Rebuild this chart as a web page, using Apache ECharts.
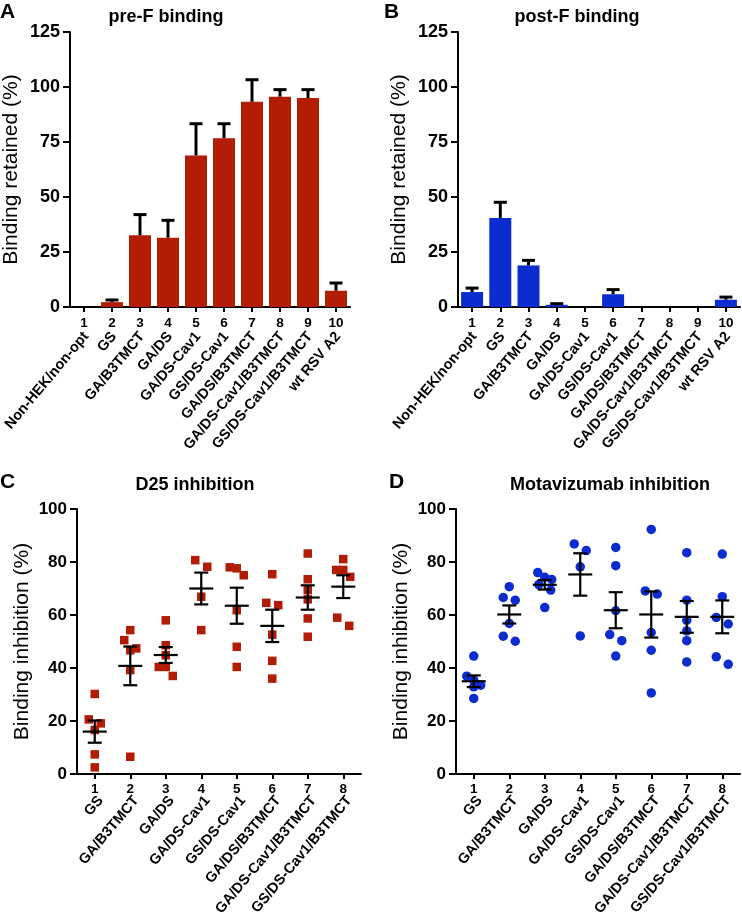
<!DOCTYPE html>
<html><head><meta charset="utf-8">
<script src="https://cdn.jsdelivr.net/npm/echarts@6/dist/echarts.min.js"></script>
<style>html,body{margin:0;padding:0;background:#fff}#c{width:742px;height:914px}</style>
</head><body><div id="c"></div>
<script>
// ---------- DATA ----------
const constructsAB = ['Non-HEK/non-opt','GS','GA/B3TMCT','GA/DS','GA/DS-Cav1','GS/DS-Cav1','GA/DS/B3TMCT','GA/DS-Cav1/B3TMCT','GS/DS-Cav1/B3TMCT','wt RSV A2'];
const numbersAB = ['1','2','3','4','5','6','7','8','9','10'];
const preFMean = [0, 2.2, 32.6, 31.5, 68.9, 76.7, 93.3, 95.6, 95.0, 7.4];
const preFErr  = [0, 1.0, 9.4, 7.9, 14.4, 6.6, 10.0, 3.2, 3.8, 3.5];
const postFMean = [6.8, 40.5, 18.9, 1.0, 0, 5.8, 0, 0, 0, 3.3];
const postFErr  = [1.8, 7.1, 2.3, 0.5, 0, 2.1, 0, 0, 0, 1.2];
const yTicksAB = [0, 25, 50, 75, 100, 125];

const constructsCD = ['GS','GA/B3TMCT','GA/DS','GA/DS-Cav1','GS/DS-Cav1','GA/DS/B3TMCT','GA/DS-Cav1/B3TMCT','GS/DS-Cav1/B3TMCT'];
const numbersCD = ['1','2','3','4','5','6','7','8'];
const d25Points = [
  [30.2, 20.6, 19.1, 16.6, 7.4, 2.5],
  [54.3, 50.5, 47.4, 46.7, 39.2, 6.5],
  [58.0, 48.6, 44.8, 40.4, 40.4, 37.0],
  [80.7, 78.2, 66.9, 54.3],
  [78.0, 77.6, 75.0, 61.8, 48.0, 40.4],
  [75.4, 64.6, 63.7, 52.6, 42.7, 36.0],
  [83.2, 73.5, 69.4, 65.9, 58.7, 51.8],
  [81.1, 77.0, 77.0, 74.4, 59.0, 55.9]
];
const d25Mean = [16.0, 40.8, 44.9, 70.0, 63.5, 55.9, 66.6, 70.7];
const d25Sem  = [4.2, 7.3, 3.0, 6.0, 6.8, 6.1, 4.6, 4.3];
const motaPoints = [
  [44.5, 36.9, 35.4, 33.5, 32.9, 28.5],
  [70.7, 66.6, 65.6, 56.8, 52.0, 50.1],
  [76.0, 74.2, 73.4, 71.5, 69.4, 62.8],
  [86.8, 84.3, 78.2, 52.1],
  [85.5, 78.6, 61.6, 52.6, 50.3, 44.5],
  [92.3, 69.1, 67.9, 53.4, 46.7, 30.6],
  [83.5, 65.6, 58.0, 54.0, 50.3, 42.3],
  [83.0, 66.9, 59.1, 56.6, 44.2, 41.4]
];
const motaMean = [35.0, 60.2, 71.4, 75.3, 61.8, 60.2, 59.3, 59.3];
const motaSem  = [2.2, 3.4, 1.8, 8.0, 6.8, 8.7, 6.0, 6.2];
const yTicksCD = [0, 20, 40, 60, 80, 100];

// ---------- STYLE ----------
const FONT = "'Liberation Sans', Arial, Helvetica, sans-serif";
const RED = '#B11C03';
const BLUE = '#0B2DCF';

// beeswarm-like layout: points whose values are close share a row and are spread sideways
function swarm(vals, tol) {
  const idx = vals.map((v, i) => i).sort((a, b) => vals[b] - vals[a]);
  const out = new Array(vals.length).fill(0);
  let row = [];
  const flush = () => {
    const n = row.length, step = n > 2 ? 7 : 12;
    row.forEach((k, j) => { out[k] = (j - (n - 1) / 2) * step; });
    row = [];
  };
  idx.forEach(k => {
    if (row.length && vals[row[0]] - vals[k] >= tol) flush();
    row.push(k);
  });
  flush();
  return out;
}
function scatterData(groups) {
  const res = [];
  groups.forEach((g, i) => {
    const off = swarm(g, 3.5);
    g.forEach((v, j) => res.push({ value: [i, v], symbolOffset: [off[j], 0] }));
  });
  return res;
}

function numAxis(gi, data, margin) {
  return {
    type: 'category', gridIndex: gi, data: data, position: 'bottom', boundaryGap: true,
    axisLine: { show: true, lineStyle: { color: '#000', width: 2 } },
    axisTick: { show: true, alignWithLabel: true, length: 5, lineStyle: { color: '#000', width: 2 } },
    axisLabel: { color: '#000', fontFamily: FONT, fontWeight: 'bold', fontSize: 13.5, margin: margin, interval: 0 },
    splitLine: { show: false }
  };
}
function nameAxis(gi, data, margin) {
  return {
    type: 'category', gridIndex: gi, data: data, position: 'bottom', offset: 0, boundaryGap: true,
    axisLine: { show: false }, axisTick: { show: false },
    axisLabel: { color: '#000', fontFamily: FONT, fontWeight: 'bold', fontSize: 14.5, margin: margin, rotate: 50, interval: 0 },
    splitLine: { show: false }
  };
}
function valAxis(gi, ticks, name, fs, gap) {
  return {
    type: 'value', gridIndex: gi, min: ticks[0], max: ticks[ticks.length - 1], interval: ticks[1] - ticks[0],
    axisLine: { show: true, lineStyle: { color: '#000', width: 2 } },
    axisTick: { show: true, length: 7, lineStyle: { color: '#000', width: 2 } },
    axisLabel: { color: '#000', fontFamily: FONT, fontWeight: 'bold', fontSize: fs, margin: 10 },
    splitLine: { show: false },
    name: name, nameLocation: 'middle', nameRotate: 90, nameGap: gap,
    nameTextStyle: { color: '#000', fontFamily: FONT, fontSize: 21 }
  };
}
function hiddenY(gi) {
  return { type: 'value', gridIndex: gi, show: false, min: 0, max: 1 };
}
function errRender(params, api) {
  const x = api.value(0), v = api.value(1), up = api.value(2);
  if (!(up > v)) return null;
  const p0 = api.coord([x, v]), p1 = api.coord([x, up]);
  const st = { stroke: '#000', lineWidth: 3 };
  return { type: 'group', children: [
    { type: 'line', shape: { x1: p0[0], y1: p0[1], x2: p1[0], y2: p1[1] }, style: st },
    { type: 'line', shape: { x1: p1[0] - 6.5, y1: p1[1], x2: p1[0] + 6.5, y2: p1[1] }, style: st }
  ]};
}
function semRender(params, api) {
  const x = api.value(0), m = api.value(1), s = api.value(2);
  const pm = api.coord([x, m]), pt = api.coord([x, m + s]), pb = api.coord([x, m - s]);
  const st = { stroke: '#000', lineWidth: 2.2 };
  return { type: 'group', children: [
    { type: 'line', shape: { x1: pm[0] - 12, y1: pm[1], x2: pm[0] + 12, y2: pm[1] }, style: st },
    { type: 'line', shape: { x1: pt[0], y1: pt[1], x2: pb[0], y2: pb[1] }, style: st },
    { type: 'line', shape: { x1: pt[0] - 7, y1: pt[1], x2: pt[0] + 7, y2: pt[1] }, style: st },
    { type: 'line', shape: { x1: pb[0] - 7, y1: pb[1], x2: pb[0] + 7, y2: pb[1] }, style: st }
  ]};
}
function txt(text, x, y, size, align) {
  return { type: 'text', x: x, y: y, style: { text: text, font: 'bold ' + size + 'px ' + FONT, fill: '#000', align: align || 'center', verticalAlign: 'middle' } };
}
function grid(l, t, w, h) {
  return { left: l, top: t, width: w, height: h, containLabel: false, outerBoundsMode: 'none' };
}

const chart = echarts.init(document.getElementById('c'), null, { renderer: 'canvas' });
chart.setOption({
  animation: false,
  backgroundColor: '#fff',
  grid: [
    grid(70, 32, 280, 275), grid(458, 32, 282, 275),
    grid(77, 509, 284, 265), grid(456, 509, 284, 265),
    // label-only grids, nudged right so the rotated names sit under-right of the numbers
    grid(72, 32, 280, 275), grid(460, 32, 282, 275),
    grid(83, 509, 284, 265), grid(462, 509, 284, 265)
  ],
  xAxis: [
    numAxis(0, numbersAB, 9), nameAxis(4, constructsAB, 27),
    numAxis(1, numbersAB, 9), nameAxis(5, constructsAB, 27),
    numAxis(2, numbersCD, 8), nameAxis(6, constructsCD, 24),
    numAxis(3, numbersCD, 8), nameAxis(7, constructsCD, 24)
  ],
  yAxis: [
    valAxis(0, yTicksAB, 'Binding retained (%)', 18, 48),
    valAxis(1, yTicksAB, 'Binding retained (%)', 18, 48),
    valAxis(2, yTicksCD, 'Binding inhibition (%)', 17, 44),
    valAxis(3, yTicksCD, 'Binding inhibition (%)', 17, 44),
    hiddenY(4), hiddenY(5), hiddenY(6), hiddenY(7)
  ],
  graphic: [
    txt('A', 0, 12, 21, 'left'), txt('pre-F binding', 166, 17, 18),
    txt('B', 384, 12, 21, 'left'), txt('post-F binding', 577, 17, 18),
    txt('C', 0, 482, 21, 'left'), txt('D25 inhibition', 195, 485, 18),
    txt('D', 389, 482, 21, 'left'), txt('Motavizumab inhibition', 610, 485, 18)
  ],
  series: [
    { type: 'bar', xAxisIndex: 0, yAxisIndex: 0, data: preFMean, barWidth: 22, itemStyle: { color: RED } },
    { type: 'custom', xAxisIndex: 0, yAxisIndex: 0, z: 5, renderItem: errRender,
      data: preFMean.map((v, i) => [i, v, v + preFErr[i]]) },
    { type: 'bar', xAxisIndex: 2, yAxisIndex: 1, data: postFMean, barWidth: 22, itemStyle: { color: BLUE } },
    { type: 'custom', xAxisIndex: 2, yAxisIndex: 1, z: 5, renderItem: errRender,
      data: postFMean.map((v, i) => [i, v, v + postFErr[i]]) },
    { type: 'scatter', xAxisIndex: 4, yAxisIndex: 2, symbol: 'rect', symbolSize: 8.5,
      itemStyle: { color: RED, opacity: 1 }, data: scatterData(d25Points) },
    { type: 'custom', xAxisIndex: 4, yAxisIndex: 2, z: 5, renderItem: semRender,
      data: d25Mean.map((m, i) => [i, m, d25Sem[i]]) },
    { type: 'scatter', xAxisIndex: 6, yAxisIndex: 3, symbol: 'circle', symbolSize: 9.5,
      itemStyle: { color: BLUE, opacity: 1 }, data: scatterData(motaPoints) },
    { type: 'custom', xAxisIndex: 6, yAxisIndex: 3, z: 5, renderItem: semRender,
      data: motaMean.map((m, i) => [i, m, motaSem[i]]) }
  ]
});
</script>
</body></html>
